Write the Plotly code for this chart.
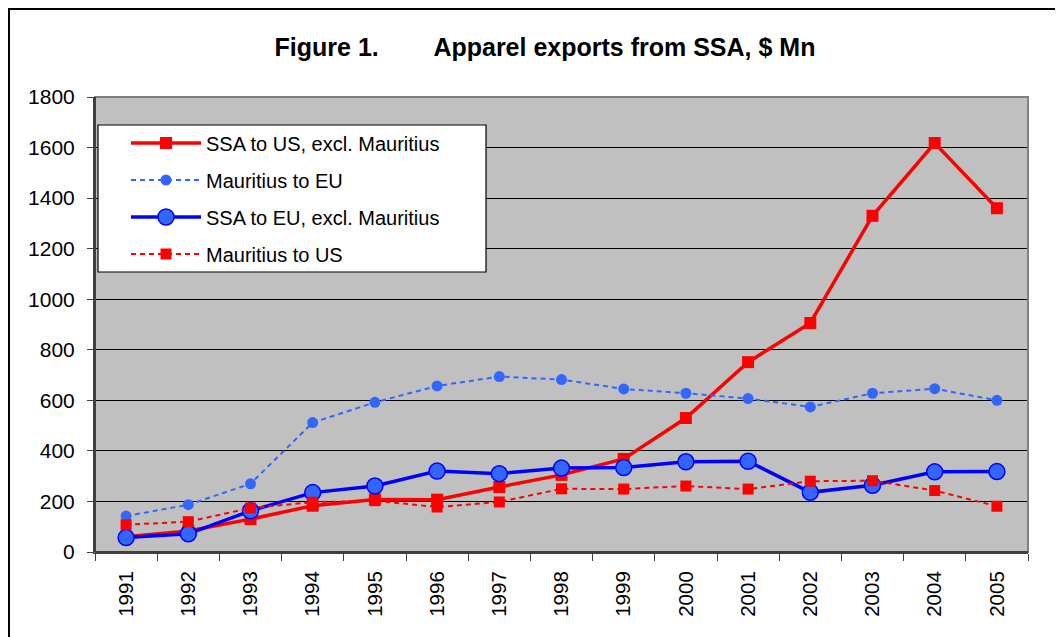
import plotly.graph_objects as go

years = [str(y) for y in range(1991, 2006)]
ssa_us = [60, 83, 130, 183, 208, 207, 257, 305, 368, 530, 751, 906, 1330, 1618, 1360]
maur_eu = [142, 187, 270, 512, 592, 657, 694, 682, 645, 628, 607, 574, 628, 646, 600]
ssa_eu = [57, 72, 163, 235, 261, 320, 310, 332, 334, 357, 359, 236, 264, 317, 318]
maur_us = [108, 120, 174, 197, 203, 178, 198, 250, 249, 261, 249, 280, 282, 243, 181]

fig = go.Figure()
fig.add_trace(go.Scatter(x=years, y=ssa_us, name="SSA to US, excl. Mauritius", legendgroup="a",
                         mode="lines+markers", line=dict(color="#FF0000", width=3.5),
                         marker=dict(symbol="square", size=12, color="#FF0000")))
fig.add_trace(go.Scatter(x=years, y=maur_eu, name="Mauritius to EU", legendgroup="b",
                         mode="lines+markers", line=dict(color="#3366FF", width=2, dash="5px,4px"),
                         marker=dict(symbol="circle", size=11, color="#3366FF")))
fig.add_trace(go.Scatter(x=years, y=ssa_eu, name="SSA to EU, excl. Mauritius", legendgroup="c",
                         mode="lines+markers", line=dict(color="#0000FF", width=3.5),
                         marker=dict(symbol="circle", size=16, color="#3366FF",
                                     line=dict(color="#0000FF", width=1.5))))
fig.add_trace(go.Scatter(x=years, y=maur_us, name="Mauritius to US", legendgroup="d",
                         mode="lines+markers", line=dict(color="#FF0000", width=2, dash="5px,4px"),
                         marker=dict(symbol="square", size=11, color="#FF0000")))

# the page body adds an 8px margin, so the figure is placed in page coordinates minus 8
OX, OY = 8, 8
W, H = 1063 - OX, 637 - OY
L, T = 95 - OX, 97 - OY
R = W - (1028 - OX)
B = H - (552 - OY)
pw = W - L - R
ph = H - T - B

def px(x):
    return (x - OX - L) / pw

def py(y):
    return (H - B - (y - OY)) / ph

fig.update_layout(
    width=W, height=H,
    margin=dict(l=L, r=R, t=T, b=B, autoexpand=False),
    paper_bgcolor="white", plot_bgcolor="#C0C0C0",
    font=dict(family="Liberation Sans, Arial", size=20, color="black"),
    title=dict(text="<b>Figure 1.\u00a0\u00a0\u00a0\u00a0\u00a0\u00a0\u00a0 Apparel exports from SSA, $ Mn</b>",
               x=(545 - OX) / W, xanchor="center", y=1 - (47 - OY) / H, yanchor="middle",
               font=dict(size=25)),
    showlegend=True,
    legend=dict(x=px(126), y=py(123.5), xanchor="left", yanchor="top",
                bgcolor="rgba(0,0,0,0)", borderwidth=0,
                font=dict(size=20), tracegroupgap=8, itemwidth=70),
    xaxis=dict(type="category", range=[-0.5, len(years) - 0.5], tickangle=-90,
               ticks="outside", ticklen=7,
               tickson="boundaries", tickcolor="#404040", showgrid=False,
               showline=True, linecolor="#404040", linewidth=2, mirror=False,
               automargin=False, ticklabelstandoff=9, tickfont=dict(size=20.5)),
    yaxis=dict(range=[0, 1800], dtick=200, ticks="outside", ticklen=6,
               tickcolor="#404040", showgrid=True, gridcolor="black", gridwidth=1,
               showline=True, linecolor="#404040", linewidth=2, zeroline=False,
               automargin=False, ticklabelstandoff=8, tickfont=dict(size=21)),
    shapes=[
        dict(type="rect", xref="paper", yref="paper", x0=0, x1=1, y0=0, y1=1,
             line=dict(color="#808080", width=2), layer="above"),
        dict(type="line", xref="paper", yref="paper", x0=0, x1=0, y0=0, y1=1,
             line=dict(color="#404040", width=2)),
        dict(type="line", xref="paper", yref="paper", x0=0, x1=1, y0=0, y1=0,
             line=dict(color="#404040", width=2)),
        dict(type="rect", xref="paper", yref="paper",
             x0=px(98), x1=px(486), y0=py(272), y1=py(125),
             fillcolor="white", line=dict(color="black", width=1.2), layer="above"),
        dict(type="rect", xref="paper", yref="paper",
             x0=px(9), x1=px(1090), y0=py(680), y1=py(9),
             line=dict(color="black", width=2)),
    ],
)

fig.write_html("out.html")
